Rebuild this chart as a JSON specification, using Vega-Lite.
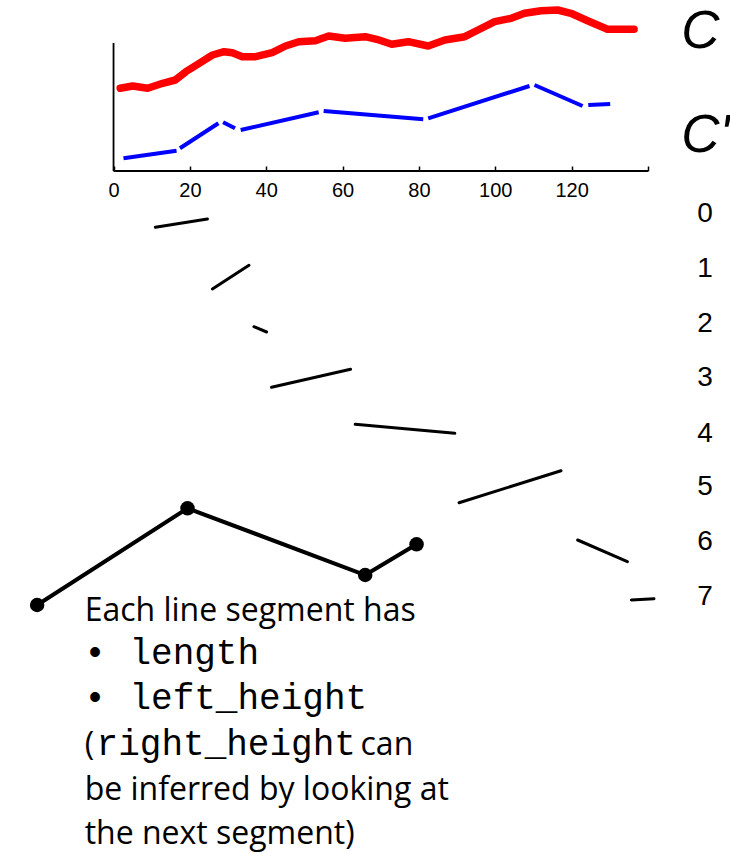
{
  "$schema": "https://vega.github.io/schema/vega-lite/v6.json",
  "width": 730,
  "height": 854,
  "autosize": {"type": "fit", "contains": "padding"},
  "padding": 0,
  "background": "white",
  "config": {"view": {"stroke": null}},
  "datasets": {
    "red": [
      {"u": 1.75, "y": 88.3}, {"u": 5.03, "y": 86}, {"u": 8.95, "y": 88.3}, {"u": 12.86, "y": 83.3},
      {"u": 16.17, "y": 80}, {"u": 18.96, "y": 71.7}, {"u": 22.43, "y": 63.3}, {"u": 25.91, "y": 55},
      {"u": 28.96, "y": 51.7}, {"u": 31.12, "y": 52.7}, {"u": 33.73, "y": 56.7}, {"u": 37.23, "y": 56.7},
      {"u": 41.56, "y": 52.7}, {"u": 45.05, "y": 46}, {"u": 48.52, "y": 41.7}, {"u": 52.88, "y": 40.7},
      {"u": 56.35, "y": 36}, {"u": 60.7, "y": 38.3}, {"u": 65.92, "y": 36.7}, {"u": 68.95, "y": 39.3},
      {"u": 72.86, "y": 44.3}, {"u": 77.22, "y": 41.7}, {"u": 82.43, "y": 46}, {"u": 86.79, "y": 40},
      {"u": 92.01, "y": 36.7}, {"u": 95.48, "y": 30}, {"u": 99.84, "y": 21.7}, {"u": 104.17, "y": 18.3},
      {"u": 107.66, "y": 13.3}, {"u": 111.99, "y": 10.7}, {"u": 116.35, "y": 10}, {"u": 119.82, "y": 13.3},
      {"u": 124.17, "y": 20.7}, {"u": 129.39, "y": 29.3}, {"u": 136.36, "y": 29.3}
    ],
    "blue": [
      {"seg": "A", "u": 2.61, "y": 158.3}, {"seg": "A", "u": 16.51, "y": 150.7},
      {"seg": "B", "u": 17.4, "y": 148.3}, {"seg": "B", "u": 27.47, "y": 123.3},
      {"seg": "C", "u": 28.7, "y": 122.3}, {"seg": "C", "u": 31.83, "y": 128.3},
      {"seg": "D", "u": 33.31, "y": 130}, {"seg": "D", "u": 53.74, "y": 112.3},
      {"seg": "E", "u": 55.04, "y": 111}, {"seg": "E", "u": 81.13, "y": 119.3},
      {"seg": "F", "u": 82.43, "y": 118.3}, {"seg": "F", "u": 108.96, "y": 86},
      {"seg": "G", "u": 110.27, "y": 85}, {"seg": "G", "u": 122.87, "y": 106},
      {"seg": "H", "u": 124.36, "y": 105}, {"seg": "H", "u": 130.1, "y": 104}
    ],
    "pieces": [
      {"seg": 0, "u": 10.96, "y": 227.3}, {"seg": 0, "u": 24.6, "y": 219},
      {"seg": 1, "u": 25.9, "y": 289}, {"seg": 1, "u": 35.48, "y": 265.3},
      {"seg": 2, "u": 36.78, "y": 326.7}, {"seg": 2, "u": 40.1, "y": 332},
      {"seg": 3, "u": 41.4, "y": 387.3}, {"seg": 3, "u": 62.09, "y": 369.3},
      {"seg": 4, "u": 63.31, "y": 424.3}, {"seg": 4, "u": 89.4, "y": 433.3},
      {"seg": 5, "u": 90.52, "y": 502.7}, {"seg": 5, "u": 117.21, "y": 470.7},
      {"seg": 6, "u": 121.57, "y": 540}, {"seg": 6, "u": 134.61, "y": 561.7},
      {"seg": 7, "u": 135.65, "y": 600}, {"seg": 7, "u": 141.57, "y": 598.7}
    ],
    "poly": [
      {"u": -20.01, "y": 605}, {"u": 19.38, "y": 508.3}, {"u": 65.92, "y": 575}, {"u": 79.38, "y": 544.3}
    ],
    "frame": [
      {"u": 0, "y": 43, "u2": 0, "y2": 171},
      {"u": 0, "y": 171, "u2": 140, "y2": 171}
    ],
    "clabels": [
      {"u": 148.7, "y": 48, "text": "C"},
      {"u": 148.7, "y": 152, "text": "C'"}
    ],
    "digits": [
      {"u": 154.96, "y": 214, "text": "0"}, {"u": 154.96, "y": 269, "text": "1"},
      {"u": 154.96, "y": 324, "text": "2"}, {"u": 154.96, "y": 378, "text": "3"},
      {"u": 154.96, "y": 434, "text": "4"}, {"u": 154.96, "y": 487, "text": "5"},
      {"u": 154.96, "y": 542, "text": "6"}, {"u": 154.96, "y": 597, "text": "7"}
    ],
    "sans": [
      {"u": -7.57, "y": 621, "text": "Each line segment has"},
      {"u": -7.57, "y": 755, "text": "("},
      {"u": 64.7, "y": 755, "text": "can"},
      {"u": -7.57, "y": 800, "text": "be inferred by looking at"},
      {"u": -7.57, "y": 844, "text": "the next segment)"}
    ],
    "bullets": [
      {"u": -6.52, "y": 664, "text": "•"},
      {"u": -6.52, "y": 709, "text": "•"}
    ],
    "mono": [
      {"u": 4.17, "y": 664, "text": "length"},
      {"u": 4.17, "y": 709, "text": "left_height"},
      {"u": -4.43, "y": 755, "text": "right_height"}
    ]
  },
  "encoding": {
    "x": {
      "field": "u", "type": "quantitative",
      "scale": {"domain": [-29.74, 160.7], "nice": false, "zero": false},
      "axis": {
        "orient": "bottom", "offset": -683, "title": null,
        "values": [0, 20, 40, 60, 80, 100, 120, 140],
        "labelExpr": "datum.value == 140 ? '' : datum.label",
        "domain": false, "grid": false, "ticks": true, "tickSize": -5,
        "tickColor": "black", "tickWidth": 1.5,
        "labelFont": "Liberation Sans", "labelFontSize": 20, "labelColor": "black",
        "labelPadding": 14, "labelFlush": false, "labelOverlap": false
      }
    },
    "y": {
      "field": "y", "type": "quantitative",
      "scale": {"domain": [0, 854], "reverse": true, "nice": false, "zero": false},
      "axis": null
    }
  },
  "layer": [
    {
      "data": {"name": "frame"},
      "mark": {"type": "rule", "color": "black", "strokeWidth": 1.8},
      "encoding": {"x2": {"field": "u2"}, "y2": {"field": "y2"}}
    },
    {
      "data": {"name": "red"},
      "mark": {"type": "line", "color": "#ff0000", "strokeWidth": 7.5, "strokeCap": "round", "strokeJoin": "round"},
      "encoding": {}
    },
    {
      "data": {"name": "blue"},
      "mark": {"type": "line", "color": "#0000ff", "strokeWidth": 4, "strokeCap": "butt"},
      "encoding": {"detail": {"field": "seg"}}
    },
    {
      "data": {"name": "pieces"},
      "mark": {"type": "line", "color": "black", "strokeWidth": 3, "strokeCap": "round"},
      "encoding": {"detail": {"field": "seg"}}
    },
    {
      "data": {"name": "poly"},
      "mark": {"type": "line", "color": "black", "strokeWidth": 4},
      "encoding": {}
    },
    {
      "data": {"name": "poly"},
      "mark": {"type": "point", "filled": true, "color": "black", "opacity": 1, "size": 210},
      "encoding": {}
    },
    {
      "data": {"name": "clabels"},
      "mark": {"type": "text", "font": "Liberation Sans", "fontStyle": "italic", "fontSize": 53, "align": "left", "baseline": "alphabetic", "color": "black"},
      "encoding": {"text": {"field": "text"}}
    },
    {
      "data": {"name": "digits"},
      "mark": {"type": "text", "font": "Liberation Sans", "fontSize": 28, "align": "center", "baseline": "middle", "color": "black"},
      "encoding": {"text": {"field": "text"}}
    },
    {
      "data": {"name": "sans"},
      "mark": {"type": "text", "font": "Open Sans", "fontSize": 32, "align": "left", "baseline": "alphabetic", "color": "black"},
      "encoding": {"text": {"field": "text"}}
    },
    {
      "data": {"name": "bullets"},
      "mark": {"type": "text", "font": "Liberation Sans", "fontSize": 36, "align": "left", "baseline": "alphabetic", "color": "black"},
      "encoding": {"text": {"field": "text"}}
    },
    {
      "data": {"name": "mono"},
      "mark": {"type": "text", "font": "Liberation Mono", "fontSize": 36, "align": "left", "baseline": "alphabetic", "color": "black"},
      "encoding": {"text": {"field": "text"}}
    }
  ]
}
